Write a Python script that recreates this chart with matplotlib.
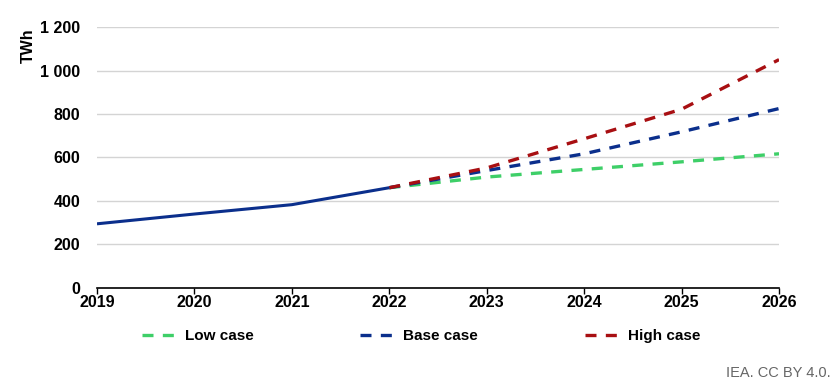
import matplotlib.pyplot as plt

plt.rcParams['font.family'] = ['Liberation Sans', 'DejaVu Sans']

#historical values
hist_years = [2019, 2020, 2021, 2022]
hist_vals = [295, 340, 383, 461]

#projections from 2022
proj_years = [2022, 2023, 2024, 2025, 2026]
low_case = [461, 510, 545, 580, 617]
base_case = [461, 540, 617, 718, 825]
high_case = [461, 552, 686, 822, 1050]

yticks = [0, 200, 400, 600, 800, 1000, 1200]
ytick_labels = ['0', '200', '400', '600', '800', '1 000', '1 200']

fig = plt.figure(figsize=(8.39, 3.86), dpi=100)
ax = fig.add_axes([0.1156, 0.254, 0.8129, 0.676])

dash = (0, (3.3, 2.8))
ax.plot(proj_years, low_case, color='#3ecf68', lw=2.4, linestyle=dash, label='Low case')
ax.plot(proj_years, base_case, color='#0b2f8c', lw=2.4, linestyle=dash, label='Base case')
ax.plot(proj_years, high_case, color='#a80f12', lw=2.4, linestyle=dash, label='High case')
ax.plot(hist_years, hist_vals, color='#0b2f8c', lw=2.2, solid_capstyle='butt')

ax.set_xlim(2019, 2026)
ax.set_ylim(0, 1200)
ax.set_yticks(yticks)
ax.set_yticklabels(ytick_labels)
ax.set_xticks(range(2019, 2027))
ax.grid(axis='y', color='#d4d4d4', lw=1)
ax.set_axisbelow(True)
for s in ['left', 'right', 'top']:
    ax.spines[s].set_visible(False)
ax.spines['bottom'].set_color('black')
ax.spines['bottom'].set_linewidth(1.2)
ax.tick_params(axis='y', length=0, pad=12, labelsize=11.5)
ax.tick_params(axis='x', length=4, width=1, labelsize=11.5, pad=1)
for lab in ax.get_xticklabels() + ax.get_yticklabels():
    lab.set_fontweight('bold')
ax.set_ylabel('TWh', fontsize=11.5, fontweight='bold')
ax.yaxis.set_label_coords(-0.09, 0.93)

handles, labels = ax.get_legend_handles_labels()
fig.legend(handles, labels, loc='center left', bbox_to_anchor=(142 / 839, 1 - 336 / 386),
           ncol=3, frameon=False, borderaxespad=0, borderpad=0,
           handlelength=2.35, handletextpad=0.45, columnspacing=7.0,
           prop={'weight': 'bold', 'size': 11})

fig.text(0.99, 0.015, 'IEA. CC BY 4.0.', ha='right', va='bottom', fontsize=10.5, color='#666666')

fig.savefig('out.png', dpi=100)
